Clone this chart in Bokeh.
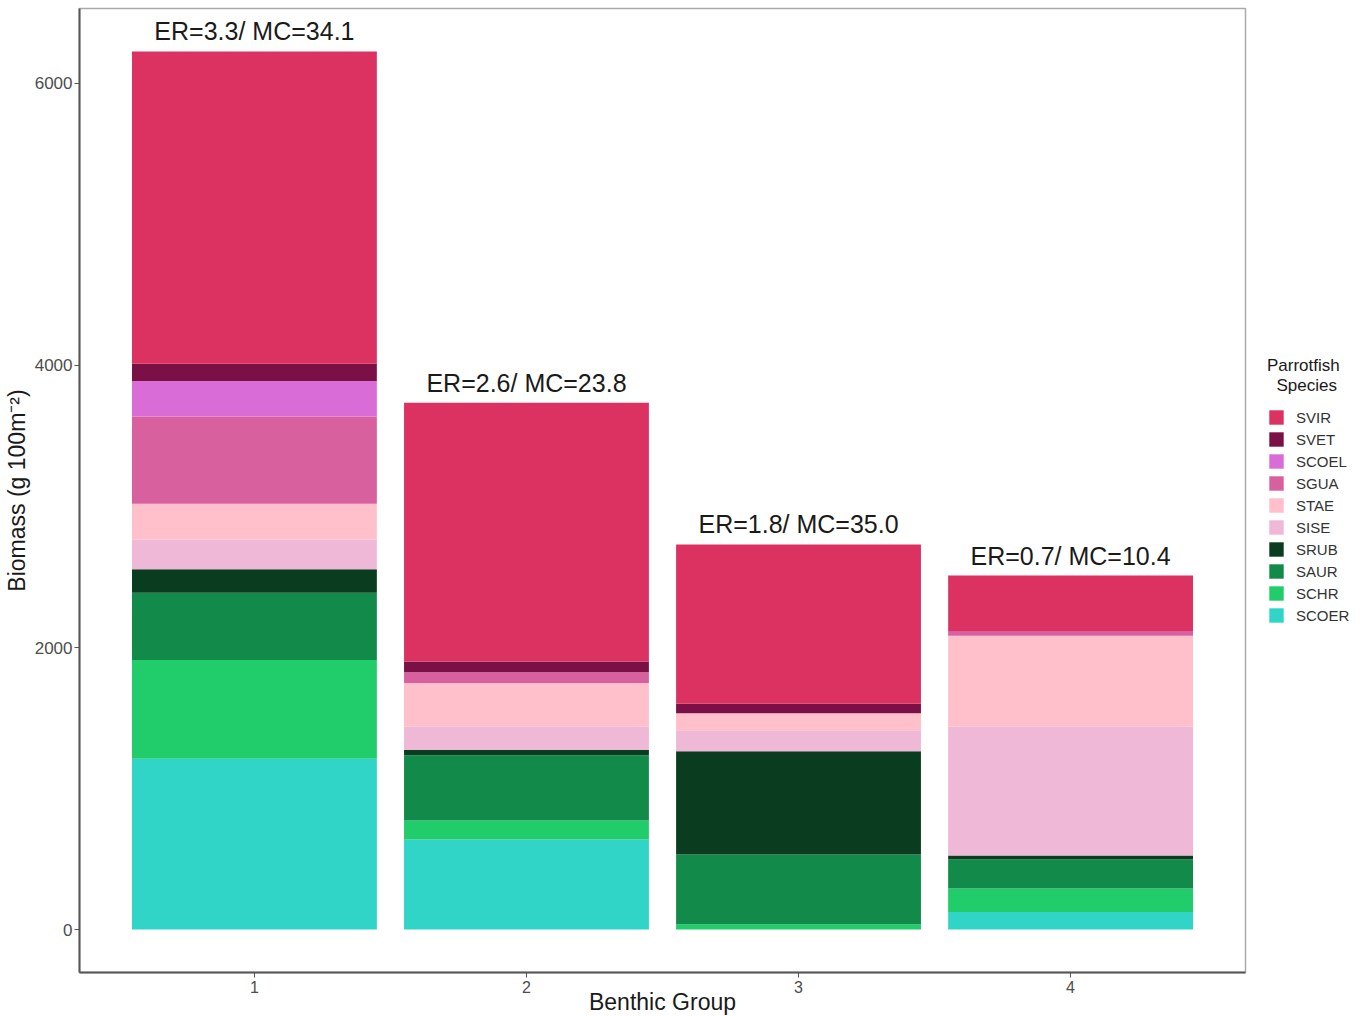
from bokeh.plotting import figure
from bokeh.models import FixedTicker, Legend, LegendItem, ColumnDataSource, Range1d
from bokeh.core.properties import value
from bokeh.embed import file_html
from bokeh.resources import INLINE

groups = [1, 2, 3, 4]
group_labels = ["1", "2", "3", "4"]

# stacked bottom -> top
species = ["SCOER", "SCHR", "SAUR", "SRUB", "SISE", "STAE", "SGUA", "SCOEL", "SVET", "SVIR"]
colors = ["#30D5C8", "#21CC6B", "#128A4A", "#0A3D20", "#EEB8D6",
          "#FFBFCB", "#D9609E", "#D96CD6", "#7A1045", "#DC3262"]

SCOER = [1211, 639, 0, 125]
SCHR = [701, 134, 38, 167]
SAUR = [476, 463, 495, 205]
SRUB = [168, 40, 731, 29]
SISE = [210, 165, 149, 915]
STAE = [253, 307, 122, 642]
SGUA = [620, 77, 0, 35]
SCOEL = [250, 0, 0, 0]
SVET = [123, 76, 66, 0]
SVIR = [2215, 1835, 1130, 392]

annotations = ["ER=3.3/ MC=34.1", "ER=2.6/ MC=23.8", "ER=1.8/ MC=35.0", "ER=0.7/ MC=10.4"]

data = dict(x=groups, SCOER=SCOER, SCHR=SCHR, SAUR=SAUR, SRUB=SRUB, SISE=SISE,
            STAE=STAE, SGUA=SGUA, SCOEL=SCOEL, SVET=SVET, SVIR=SVIR)
source = ColumnDataSource(data)

FONT = "Liberation Sans"

p = figure(frame_width=1166, frame_height=964, output_backend="svg", toolbar_location=None,
           x_range=Range1d(0.357, 4.643), y_range=Range1d(-304, 6531),
           min_border_left=10, min_border_right=0, min_border_top=8, min_border_bottom=0)

renderers = p.vbar_stack(species, x="x", width=0.9, source=source, color=colors,
                         line_color=None)

totals = [sum(v) for v in zip(SCOER, SCHR, SAUR, SRUB, SISE, STAE, SGUA, SCOEL, SVET, SVIR)]
tsrc = ColumnDataSource(dict(x=groups, y=totals, t=annotations))
p.text(x="x", y="y", text="t", source=tsrc, text_align="center", text_baseline="bottom",
       y_offset=-6, text_font=value(FONT), text_font_size="25px", text_color="#1a1a1a")

items = [LegendItem(label=s, renderers=[r]) for s, r in zip(species, renderers)][::-1]
legend = Legend(items=items, title="Parrotfish\n  Species", location="center_left",
                title_text_font=FONT, title_text_font_size="17px", title_text_color="#1a1a1a",
                title_text_font_style="normal", title_standoff=12,
                label_text_font=FONT, label_text_font_size="15px", label_text_color="#333333",
                glyph_width=18, glyph_height=18, label_height=18, spacing=4,
                label_standoff=11, padding=0, margin=0, border_line_color=None,
                background_fill_alpha=0)
p.add_layout(legend, "right")
legend.margin = 22

p.xgrid.visible = False
p.ygrid.visible = False
p.outline_line_color = "#aaaaaa"
p.outline_line_width = 1.5

p.xaxis.ticker = FixedTicker(ticks=groups)
p.xaxis.major_label_overrides = {g: l for g, l in zip(groups, group_labels)}
p.yaxis.ticker = FixedTicker(ticks=[0, 2000, 4000, 6000])
for ax in (p.xaxis, p.yaxis):
    ax.axis_line_color = "#555555"
    ax.axis_line_width = 2
    ax.major_tick_line_color = "#555555"
    ax.major_tick_out = 5
    ax.major_tick_in = 0
    ax.minor_tick_line_color = None
    ax.major_label_text_font = FONT
    ax.major_label_text_color = "#4D4D4D"
    ax.axis_label_text_font = FONT
    ax.axis_label_text_font_style = "normal"
    ax.axis_label_text_color = "#1a1a1a"
p.xaxis.major_label_text_font_size = "16px"
p.yaxis.major_label_text_font_size = "17px"
p.xaxis.axis_label = "Benthic Group"
p.yaxis.axis_label = "Biomass (g 100m\u207b\u00b2)"
p.xaxis.axis_label_text_font_size = "23px"
p.yaxis.axis_label_text_font_size = "23px"
p.xaxis.major_label_standoff = 3
p.xaxis.axis_label_standoff = -7
p.yaxis.major_label_standoff = 2
p.yaxis.axis_label_standoff = 2

open("out.html", "w").write(file_html(p, INLINE))
